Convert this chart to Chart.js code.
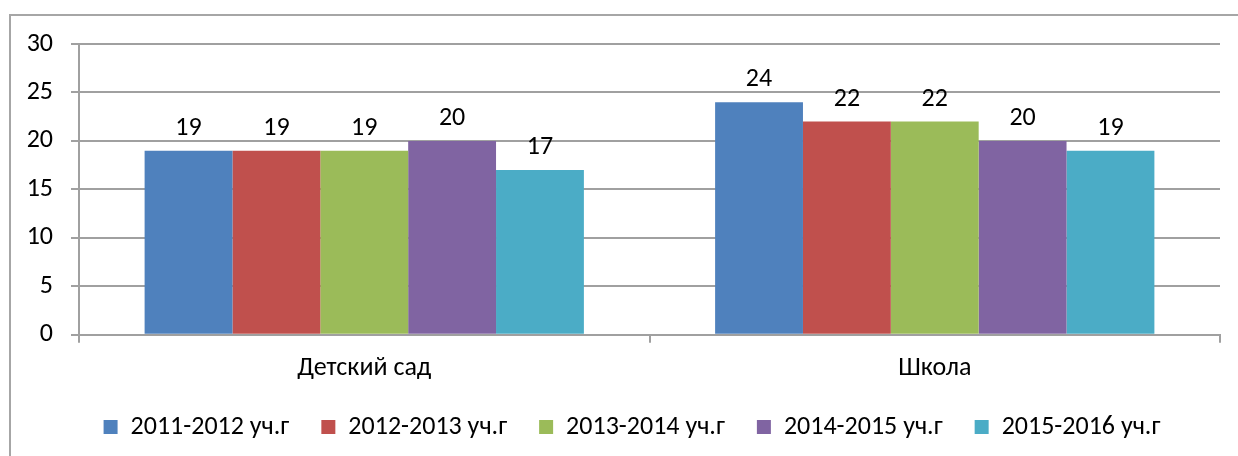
<!DOCTYPE html>
<html><head><meta charset="utf-8">
<script src="https://cdn.jsdelivr.net/npm/chart.js@4/dist/chart.umd.min.js"></script>
<style>html,body{margin:0;padding:0;background:#fff}#wrap{width:1238px;height:456px;position:relative}</style>
</head><body><div id="wrap"><canvas id="c" width="1238" height="456"></canvas></div>
<script>
const categories = ['Детский сад', 'Школа'];
const seriesNames = ['2011-2012 уч.г', '2012-2013 уч.г', '2013-2014 уч.г', '2014-2015 уч.г', '2015-2016 уч.г'];
const s2011 = [19, 24];
const s2012 = [19, 22];
const s2013 = [19, 22];
const s2014 = [20, 20];
const s2015 = [17, 19];
const colors = ['#4F81BD', '#C0504D', '#9BBB59', '#8064A2', '#4BACC6'];
const yTicks = [0, 5, 10, 15, 20, 25, 30];
const FONT = "Carlito, Lato, 'Liberation Sans', sans-serif";
const FS = 26;

// tighter vertical legend placement while keeping wide horizontal item spacing
if (Chart.Legend && Chart.Legend._element) {
  const LegendEl = Chart.Legend._element;
  const origFit = LegendEl.prototype.fit;
  LegendEl.prototype.fit = function () { origFit.call(this); if (this.isHorizontal()) this.height -= 10; };
  const origDraw = LegendEl.prototype.draw;
  LegendEl.prototype.draw = function () {
    const ctx = this.ctx; ctx.save(); ctx.translate(22, -12); origDraw.call(this); ctx.restore();
  };
}

const seriesData = [s2011, s2012, s2013, s2014, s2015];
const datasets = seriesData.map((d, i) => ({
  label: seriesNames[i], data: d, backgroundColor: colors[i], borderWidth: 0,
  categoryPercentage: 0.77, barPercentage: 1.0
}));

const frame = {
  id: 'frame',
  beforeDraw(chart) {
    const ctx = chart.ctx;
    ctx.save();
    ctx.fillStyle = '#fff';
    ctx.fillRect(0, 0, chart.width, chart.height);
    ctx.strokeStyle = '#a6a6a6';
    ctx.lineWidth = 2;
    ctx.strokeRect(10, 15, 1400, 600);
    ctx.restore();
  }
};
const labels = {
  id: 'labels',
  afterDatasetsDraw(chart) {
    const ctx = chart.ctx;
    ctx.save();
    ctx.font = FS + 'px ' + FONT;
    ctx.fillStyle = '#000';
    ctx.textAlign = 'center';
    ctx.textBaseline = 'alphabetic';
    chart.data.datasets.forEach((ds, i) => {
      chart.getDatasetMeta(i).data.forEach((bar, j) => {
        ctx.fillText(String(ds.data[j]), bar.x, bar.y - 16);
      });
    });
    ctx.restore();
  }
};

new Chart(document.getElementById('c'), {
  type: 'bar',
  data: { labels: categories, datasets },
  plugins: [frame, labels],
  options: {
    responsive: false, animation: false,
    layout: { padding: { left: 0, right: 18, top: 44, bottom: 4 } },
    plugins: {
      legend: {
        position: 'bottom',
        labels: { font: { family: FONT, size: FS }, color: '#000', boxWidth: 14, boxHeight: 14, padding: 32 }
      },
      tooltip: { enabled: false }
    },
    scales: {
      x: {
        grid: { display: true, drawOnChartArea: false, color: '#a0a0a0', lineWidth: 2, tickLength: 8, offset: true },
        border: { display: true, color: '#a0a0a0', width: 2 },
        ticks: { font: { family: FONT, size: FS }, color: '#000', padding: 10 }
      },
      y: {
        min: 0, max: 30,
        afterFit(s) { s.width = 79; },
        afterBuildTicks(s) { s.ticks = yTicks.map(v => ({ value: v })); },
        grid: { color: '#a0a0a0', lineWidth: 2, tickLength: 8 },
        border: { display: true, color: '#a0a0a0', width: 2 },
        ticks: { font: { family: FONT, size: FS }, color: '#000', padding: 18 }
      }
    }
  }
});
</script></body></html>
